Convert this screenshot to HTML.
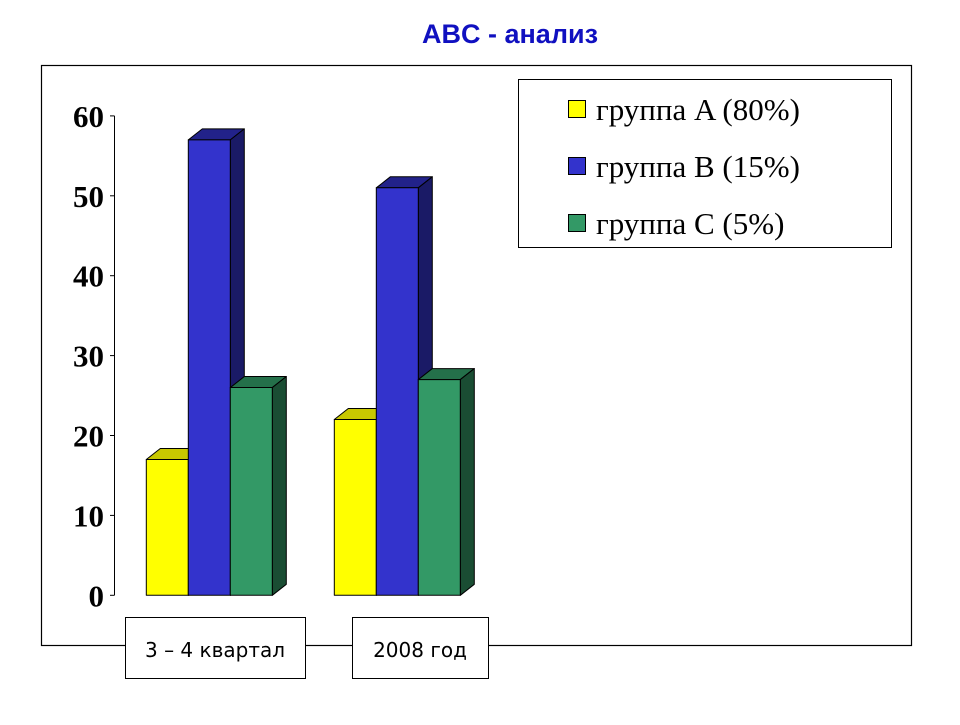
<!DOCTYPE html>
<html><head><meta charset="utf-8"><style>
body{margin:0;background:#fff;width:960px;height:720px;overflow:hidden}
</style></head><body>
<svg width="960" height="720" xmlns="http://www.w3.org/2000/svg">
<text x="510" y="43" text-anchor="middle" font-family="Liberation Sans, sans-serif" font-weight="bold" font-size="27" fill="#1010c0">ABC - анализ</text>
<rect x="41.5" y="65.5" width="870" height="580" fill="none" stroke="#000" stroke-width="1.2"/>
<g id="axis"></g>
<g id="bars"></g>
<rect x="125.5" y="617.5" width="180" height="61" fill="#fff" stroke="#000"/>
<text x="215" y="657" text-anchor="middle" font-family="DejaVu Sans, sans-serif" font-size="20">3 – 4 квартал</text>
<rect x="352.5" y="617.5" width="136" height="61" fill="#fff" stroke="#000"/>
<text x="420" y="657" text-anchor="middle" font-family="DejaVu Sans, sans-serif" font-size="20">2008 год</text>
<rect x="518.5" y="79.5" width="373" height="168" fill="#fff" stroke="#000"/>
<g id="legend"></g>
</svg>
<script>
const categories=["3 – 4 квартал","2008 год"];
const seriesNames=["группа A (80%)","группа B (15%)","группа C (5%)"];
const seriesA=[17,22];
const seriesB=[57,51];
const seriesC=[26,27];
const ticks=[0,10,20,30,40,50,60];
const NS="http://www.w3.org/2000/svg";
const colors=[["#ffff00","#c8c800","#b0b000"],["#3333cc","#22228a","#1a1a66"],["#339966","#24704a","#1a4d33"]];
const y0=595.3,ppu=7.99;
const yS=v=>y0-v*ppu;
const groupX=[146.3,334.3],bw=42,dx=14,dy=11;
function mk(t,a,p){const e=document.createElementNS(NS,t);for(const k in a)e.setAttribute(k,a[k]);p.appendChild(e);return e;}
const ax=document.getElementById('axis');
const axl=mk('line',{x1:114.5,x2:114.5,y1:yS(60),y2:y0,stroke:'#000'},ax);


ticks.forEach(t=>{
 const l=mk('line',{x1:110,x2:114.5,y1:yS(t),y2:yS(t),stroke:'#000'},ax);
 
 
 const tx=mk('text',{x:104,y:yS(t)+11,'text-anchor':'end','font-family':'Liberation Serif, serif','font-weight':'bold','font-size':'31'},ax);
 tx.textContent=t;
 
 
});
const bars=document.getElementById('bars');
const series=[seriesA,seriesB,seriesC];
categories.forEach((c,ci)=>{
 series.forEach((s,si)=>{
  const x=groupX[ci]+si*bw,yt=yS(s[ci]);
  const g=mk('g',{stroke:'#000','stroke-width':'1','stroke-linejoin':'round'},bars);
  
  
  mk('polygon',{points:`${x},${yt} ${x+dx},${yt-dy} ${x+bw+dx},${yt-dy} ${x+bw},${yt}`,fill:colors[si][1]},g);
  mk('polygon',{points:`${x+bw},${yt} ${x+bw+dx},${yt-dy} ${x+bw+dx},${y0-dy} ${x+bw},${y0}`,fill:colors[si][2]},g);
  mk('rect',{x:x,y:yt,width:bw,height:y0-yt,fill:colors[si][0]},g);
 });
});
const lg=document.getElementById('legend');
seriesNames.forEach((n,i)=>{
 const cy=109+i*57;
 const r=mk('rect',{x:568.5,y:cy-8.5,width:17,height:17,fill:colors[i][0],stroke:'#000'},lg);
 
 
 const t=mk('text',{x:596,y:cy+11,'font-family':'Liberation Serif, serif','font-size':'31'},lg);
 t.textContent=n;
 
 
});
</script>
</body></html>
